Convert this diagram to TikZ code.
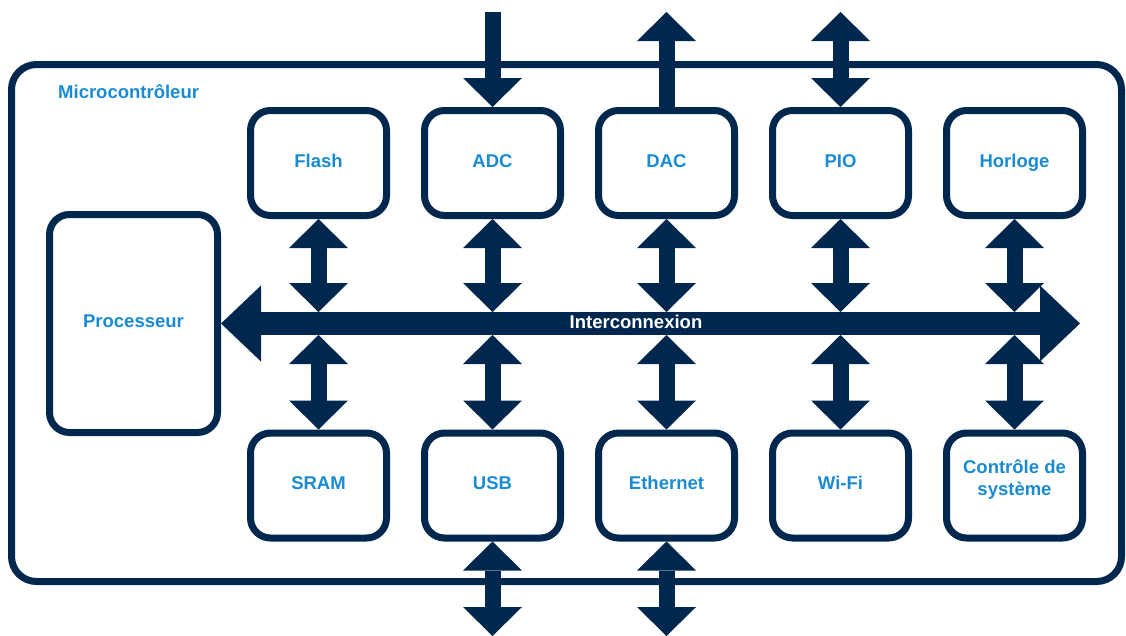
\documentclass[tikz,border=0pt]{standalone}
\usepackage{fontspec}
\setmainfont{Liberation Sans}
\usetikzlibrary{arrows.meta}
\definecolor{navy}{RGB}{0,40,78}
\definecolor{lblue}{RGB}{26,139,210}
\tikzset{
  vtip/.tip={Triangle[length=29pt,width=59pt,line width=0pt]},
  btip/.tip={Triangle[length=40pt,width=76pt,line width=0pt]},
}
\begin{document}
\begin{tikzpicture}[x=1pt,y=-1pt,
  lbl/.style={font=\bfseries\fontsize{18.5}{22}\selectfont, text=lblue, align=center},
  boxbase/.style={lbl, draw=navy, line width=7pt, rounded corners=20pt, fill=white,
    minimum width=136pt, minimum height=105pt, inner sep=0pt},
  box/.style={boxbase, text height=13pt, text depth=5pt},
  frame/.style={draw=navy, line width=7pt, rounded corners=25pt},
  vdbl/.style={draw=navy, line width=16pt, arrows={vtip-vtip}},
  vend/.style={draw=navy, line width=16pt, arrows={-vtip}},
  bus/.style={draw=navy, line width=23pt, arrows={btip-btip}},
]
\useasboundingbox (0,0) rectangle (1126,635);
% outer frame
\draw[frame] (11.5,64.5) rectangle (1121.5,581.5);
\node[lbl, anchor=west, inner sep=0pt] (mcu) at (58,92) {Microcontrôleur};
% processor
\node[box, minimum width=168pt, minimum height=218pt] (proc) at (133.5,323.5) {Processeur};
% top row
\node[box] (flash) at (318.5,163) {Flash};
\node[box] (adc)   at (492.5,163) {ADC};
\node[box] (dac)   at (666.5,163) {DAC};
\node[box] (pio)   at (840.5,163) {PIO};
\node[box] (clk)   at (1014.5,163) {Horloge};
% bottom row
\node[box] (sram)  at (318.5,485.5) {SRAM};
\node[box] (usb)   at (492.5,485.5) {USB};
\node[box] (eth)   at (666.5,485.5) {Ethernet};
\node[box] (wifi)  at (840.5,485.5) {Wi-Fi};
\node[boxbase] (sys) at (1014.5,485.5) {Contrôle de\\système\\[-6pt]};
% helper coordinates
\coordinate (bt) at (0,312);
\coordinate (bb) at (0,335);
\coordinate (top) at (0,12);
\coordinate (bot) at (0,636);
\coordinate (busend) at (1080,323.5);
% interconnect bus
\draw[bus] (proc.east) -- (busend);
\node[font=\bfseries\fontsize{18.5}{22}\selectfont, text=white] (ic) at (636,322) {Interconnexion};
% vertical links to bus
\foreach \n in {flash,adc,dac,pio,clk}{
  \draw[vdbl] (\n.south) -- (\n.south |- bt);
}
\foreach \n in {sram,usb,eth,wifi,sys}{
  \draw[vdbl] (\n.north) -- (\n.north |- bb);
}
% external links
\draw[vend] (adc.north |- top) -- (adc.north);
\draw[vend] (dac.north) -- (dac.north |- top);
\draw[vdbl] (pio.north) -- (pio.north |- top);
\draw[vdbl] (usb.south) -- (usb.south |- bot);
\draw[vdbl] (eth.south) -- (eth.south |- bot);
\end{tikzpicture}
\end{document}
